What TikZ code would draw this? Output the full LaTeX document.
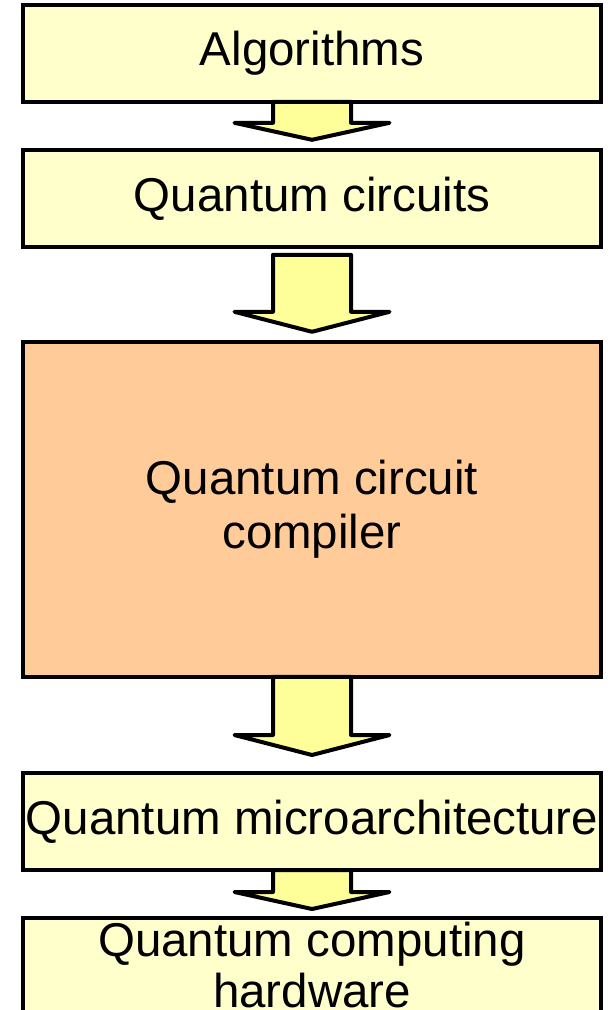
\documentclass[tikz,border=0pt]{standalone}
\usepackage{fontspec}
\setmainfont{Liberation Sans}
\usepackage{tikz}
\usetikzlibrary{positioning,calc}
\definecolor{boxyellow}{HTML}{FFFFCC}
\definecolor{arrowyellow}{HTML}{FFFF99}
\definecolor{compilerorange}{HTML}{FFCC99}
\tikzset{
  layerbox/.style={draw, line width=3pt, fill=boxyellow, align=center,
    font=\fontsize{35.6}{40}\selectfont, minimum width=433.5pt,
    minimum height=72.75pt, inner sep=1pt, outer sep=0pt},
  compilerbox/.style={layerbox, fill=compilerorange, minimum height=251.25pt},
  flowarrow/.style={draw, line width=3pt, fill=arrowyellow, line join=round},
}
% block arrow: shaft top, tip, head length
\newcommand{\flowarrow}[3]{%
  \draw[flowarrow] ($(#1)+(-39,0)$) -- ($(#2)+(-39,-#3)$) -- ($(#2)+(-77.5,-#3)$)
    -- (#2) -- ($(#2)+(77.5,-#3)$) -- ($(#2)+(39,-#3)$) -- ($(#1)+(39,0)$) -- cycle;}
\begin{document}
\begin{tikzpicture}[x=0.75pt,y=-0.75pt]
  \useasboundingbox (0,0) rectangle (615,1010);
  \node[layerbox] (alg) at (312,53.3) {Algorithms};
  \node[layerbox] (circ) at (312,198.3) {Quantum circuits};
  \node[compilerbox] (comp) at (312,509.3) {Quantum circuit\\compiler};
  \node[layerbox] (micro) at (312,821.5) {Quantum microarchitecture};
  \node[layerbox, font=\fontsize{35.6}{38.5}\selectfont, minimum height=70.5pt] (hw) at (312,965) {Quantum computing\\hardware};
  % arrows between the layers
  \coordinate (t1) at ($(circ.north)+(0,-10)$);
  \coordinate (s2) at ($(circ.south)+(0,8)$);
  \coordinate (t2) at ($(comp.north)+(0,-10)$);
  \coordinate (t3) at ($(micro.north)+(0,-18)$);
  \coordinate (t4) at ($(hw.north)+(0,-9)$);
  \flowarrow{alg.south}{t1}{17}
  \flowarrow{s2}{t2}{20}
  \flowarrow{comp.south}{t3}{20}
  \flowarrow{micro.south}{t4}{17}
\end{tikzpicture}
\end{document}
